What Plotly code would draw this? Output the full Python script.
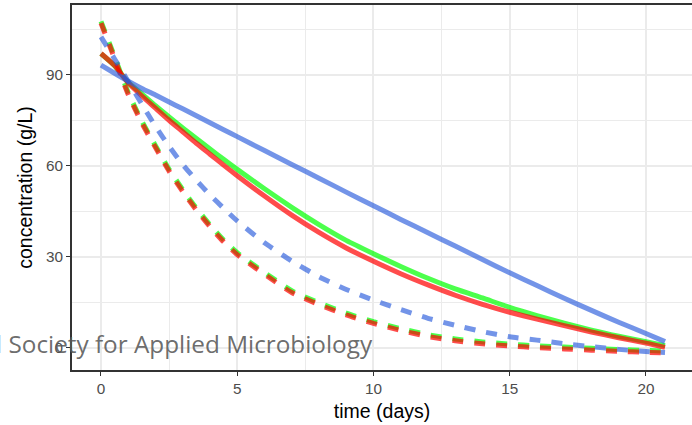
import plotly.graph_objects as go

# time grid (days)
time = [0, 0.5, 1, 1.5, 2, 2.5, 3, 3.5, 4, 4.5, 5, 6, 7, 8, 9, 10, 11, 12, 13,
        14, 15, 16, 17, 18, 19, 20, 20.7]

# solid curves
green_solid = [97.0, 93.0, 87.5, 83.7, 79.8, 76.1, 72.5, 69.0, 65.5, 62.1, 58.8,
               52.4, 46.3, 40.6, 35.4, 31.0, 26.8, 22.9, 19.4, 16.4, 13.3, 10.6,
               8.1, 5.8, 3.8, 2.0, 0.7]
red_solid = [97.0, 93.0, 87.3, 83.0, 79.0, 75.0, 71.2, 67.4, 63.8, 60.2, 56.7,
             50.0, 43.7, 38.0, 32.9, 28.5, 24.4, 20.7, 17.3, 14.3, 11.7, 9.4,
             7.3, 5.2, 3.3, 1.5, 0.1]
blue_solid = [93.2, 90.5, 87.9, 85.5, 83.3, 81.0, 78.8, 76.5, 74.2, 71.9, 69.6,
              65.0, 60.4, 55.9, 51.3, 46.8, 42.3, 37.9, 33.5, 29.1, 24.7, 20.5,
              16.3, 12.3, 8.4, 4.7, 2.0]

# dashed curves
green_dashed = [107.6, 95.9, 84.1, 74.7, 66.6, 58.8, 52.1, 46.0, 40.5, 35.5, 31.3,
                24.8, 18.8, 14.8, 11.4, 8.6, 6.3, 4.3, 2.9, 1.9, 1.2, 0.6, 0.2,
                -0.2, -0.6, -0.9, -1.1]
red_dashed = [107.0, 95.3, 83.5, 74.1, 66.0, 58.2, 51.5, 45.4, 39.9, 34.9, 30.7,
              24.2, 18.2, 14.2, 10.8, 8.0, 5.7, 3.7, 2.3, 1.3, 0.6, 0.0, -0.4,
              -0.8, -1.2, -1.5, -1.7]
blue_dashed = [102.5, 95.2, 87.8, 80.3, 73.0, 66.4, 60.4, 55.2, 50.4, 46.0, 41.8,
               34.6, 28.6, 23.4, 19.2, 15.7, 12.6, 9.7, 7.4, 5.3, 3.6, 2.5, 1.3,
               0.35, -0.55, -1.25, -1.6]

x_ticks = [0, 5, 10, 15, 20]
y_ticks = [0, 30, 60, 90]

GREEN = "rgba(0,255,0,0.7)"
RED = "rgba(255,0,0,0.7)"
BLUE = "rgba(40,90,220,0.65)"
DASH = "11px,11px"
LW = 5
FONT = "Liberation Sans, Arial, sans-serif"

fig = go.Figure()
series = [
    (green_solid, GREEN, "solid"),
    (green_dashed, GREEN, DASH),
    (red_solid, RED, "solid"),
    (red_dashed, RED, DASH),
    (blue_solid, BLUE, "solid"),
    (blue_dashed, BLUE, DASH),
]
for ys, col, dash in series:
    fig.add_trace(go.Scatter(
        x=time, y=ys, mode="lines",
        line=dict(color=col, width=LW, dash=dash, shape="spline", smoothing=0.6),
        showlegend=False, hoverinfo="skip"))

axis_common = dict(
    showgrid=True, gridcolor="#EBEBEB", gridwidth=1.6,
    zeroline=False,
    showline=True, linecolor="#333333", linewidth=1.6,
    ticks="outside", ticklen=4, tickwidth=1.2, tickcolor="#333333",
    tickfont=dict(family=FONT, size=15.3, color="#4D4D4D"),
    automargin=False,
)

fig.update_layout(
    width=692, height=425,
    margin=dict(l=72, r=0, t=5, b=55),
    paper_bgcolor="white", plot_bgcolor="white",
    xaxis=dict(
        **axis_common,
        range=[-1.064, 21.69],
        tickvals=x_ticks, ticktext=[str(v) for v in x_ticks],
        mirror=True,
        minor=dict(showgrid=True, gridcolor="#EBEBEB", gridwidth=0.8, dtick=2.5, tick0=0, ticks=""),
        title=dict(text="time (days)", standoff=8,
                   font=dict(family=FONT, size=19.5, color="black")),
    ),
    yaxis=dict(
        **axis_common,
        range=[-7.35, 113.0],
        tickvals=y_ticks, ticktext=[str(v) for v in y_ticks],
        minor=dict(showgrid=True, gridcolor="#EBEBEB", gridwidth=0.8, dtick=15, tick0=15, ticks=""),
        title=dict(text="concentration (g/L)", standoff=8,
                   font=dict(family=FONT, size=19.5, color="black")),
    ),
    annotations=[dict(
        text="l Society for Applied Microbiology",
        xref="paper", yref="paper", x=(375 - 72) / 620, y=0.072,
        xanchor="right", yanchor="middle", showarrow=False,
        font=dict(family="Open Sans, sans-serif", size=24.3, color="rgba(90,90,90,0.9)"),
    )],
)

fig.write_html("out.html", config={"displayModeBar": False},
               post_script="document.body.style.margin='0';")
